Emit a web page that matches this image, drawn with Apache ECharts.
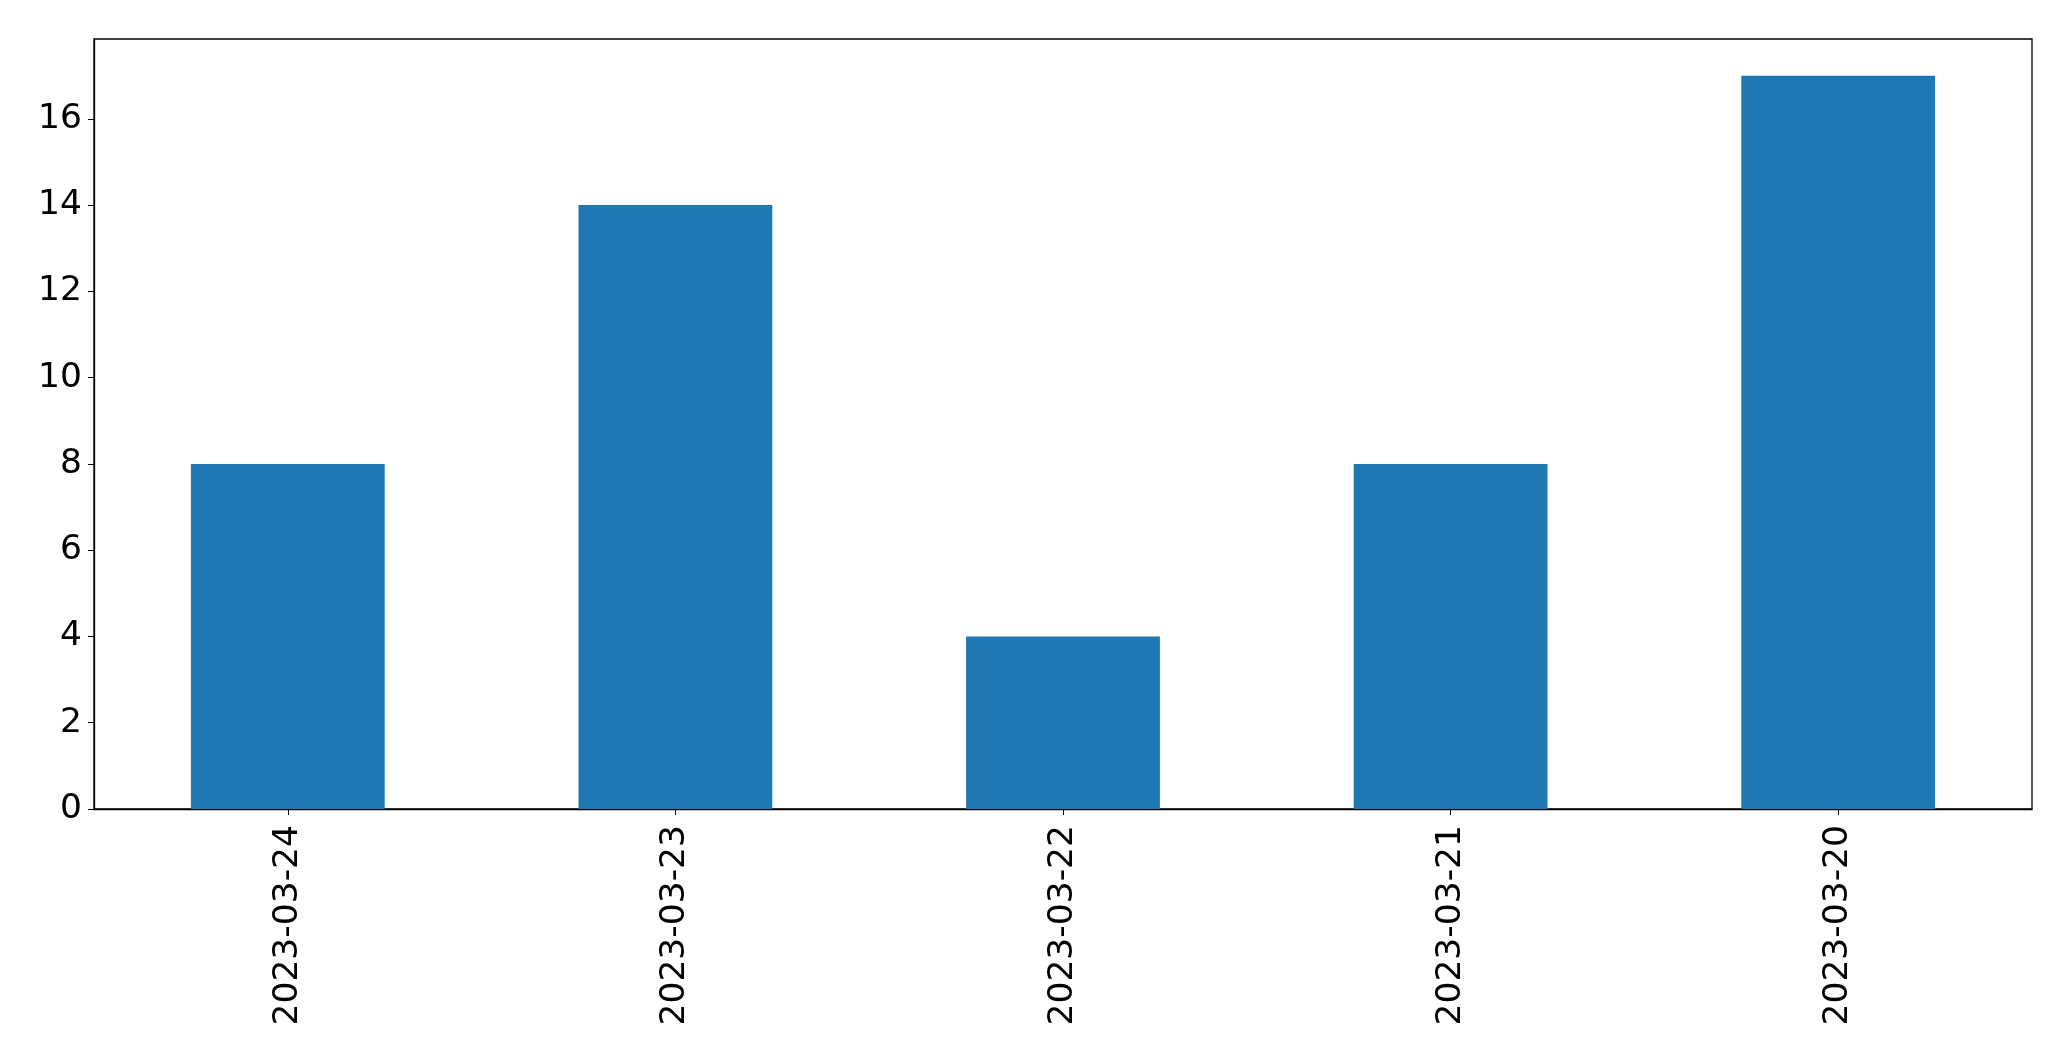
<!DOCTYPE html>
<html>
<head>
<meta charset="utf-8">
<script src="https://cdn.jsdelivr.net/npm/echarts@6/dist/echarts.min.js"></script>
<style>html,body{margin:0;padding:0;background:#fff;}#c{width:2071px;height:1061px;}</style>
</head>
<body>
<div id="c"></div>
<script>
const categories = ['2023-03-24', '2023-03-23', '2023-03-22', '2023-03-21', '2023-03-20'];
const values = [8, 14, 4, 8, 17];
const yTicks = [0, 2, 4, 6, 8, 10, 12, 14, 16];

const chart = echarts.init(document.getElementById('c'), null, {renderer: 'canvas'});
chart.setOption({
  animation: false,
  backgroundColor: '#ffffff',
  grid: {left: 94, right: 39, top: 39, bottom: 252, show: true, borderColor: '#000000', borderWidth: 1.3, backgroundColor: 'transparent'},
  xAxis: {
    type: 'category',
    data: categories,
    boundaryGap: true,
    axisLine: {show: true, lineStyle: {color: '#000', width: 1.3}},
    axisTick: {show: true, alignWithLabel: true, length: 6, lineStyle: {color: '#000'}},
    axisLabel: {rotate: 90, margin: 16, color: '#000', fontSize: 34.5, fontFamily: 'DejaVu Sans'},
    splitLine: {show: false}
  },
  yAxis: {
    type: 'value',
    min: 0,
    max: 17.85,
    interval: 2,
    axisLine: {show: true, lineStyle: {color: '#000', width: 1.3}},
    axisTick: {show: true, length: 6, customValues: yTicks, lineStyle: {color: '#000'}},
    axisLabel: {margin: 12, color: '#000', fontSize: 34.5, fontFamily: 'DejaVu Sans', customValues: yTicks, padding: [6, 0, 0, 0]},
    splitLine: {show: false}
  },
  series: [{
    type: 'bar',
    data: values,
    barWidth: '50%',
    itemStyle: {color: '#1f77b4'}
  }]
});
</script>
</body>
</html>
